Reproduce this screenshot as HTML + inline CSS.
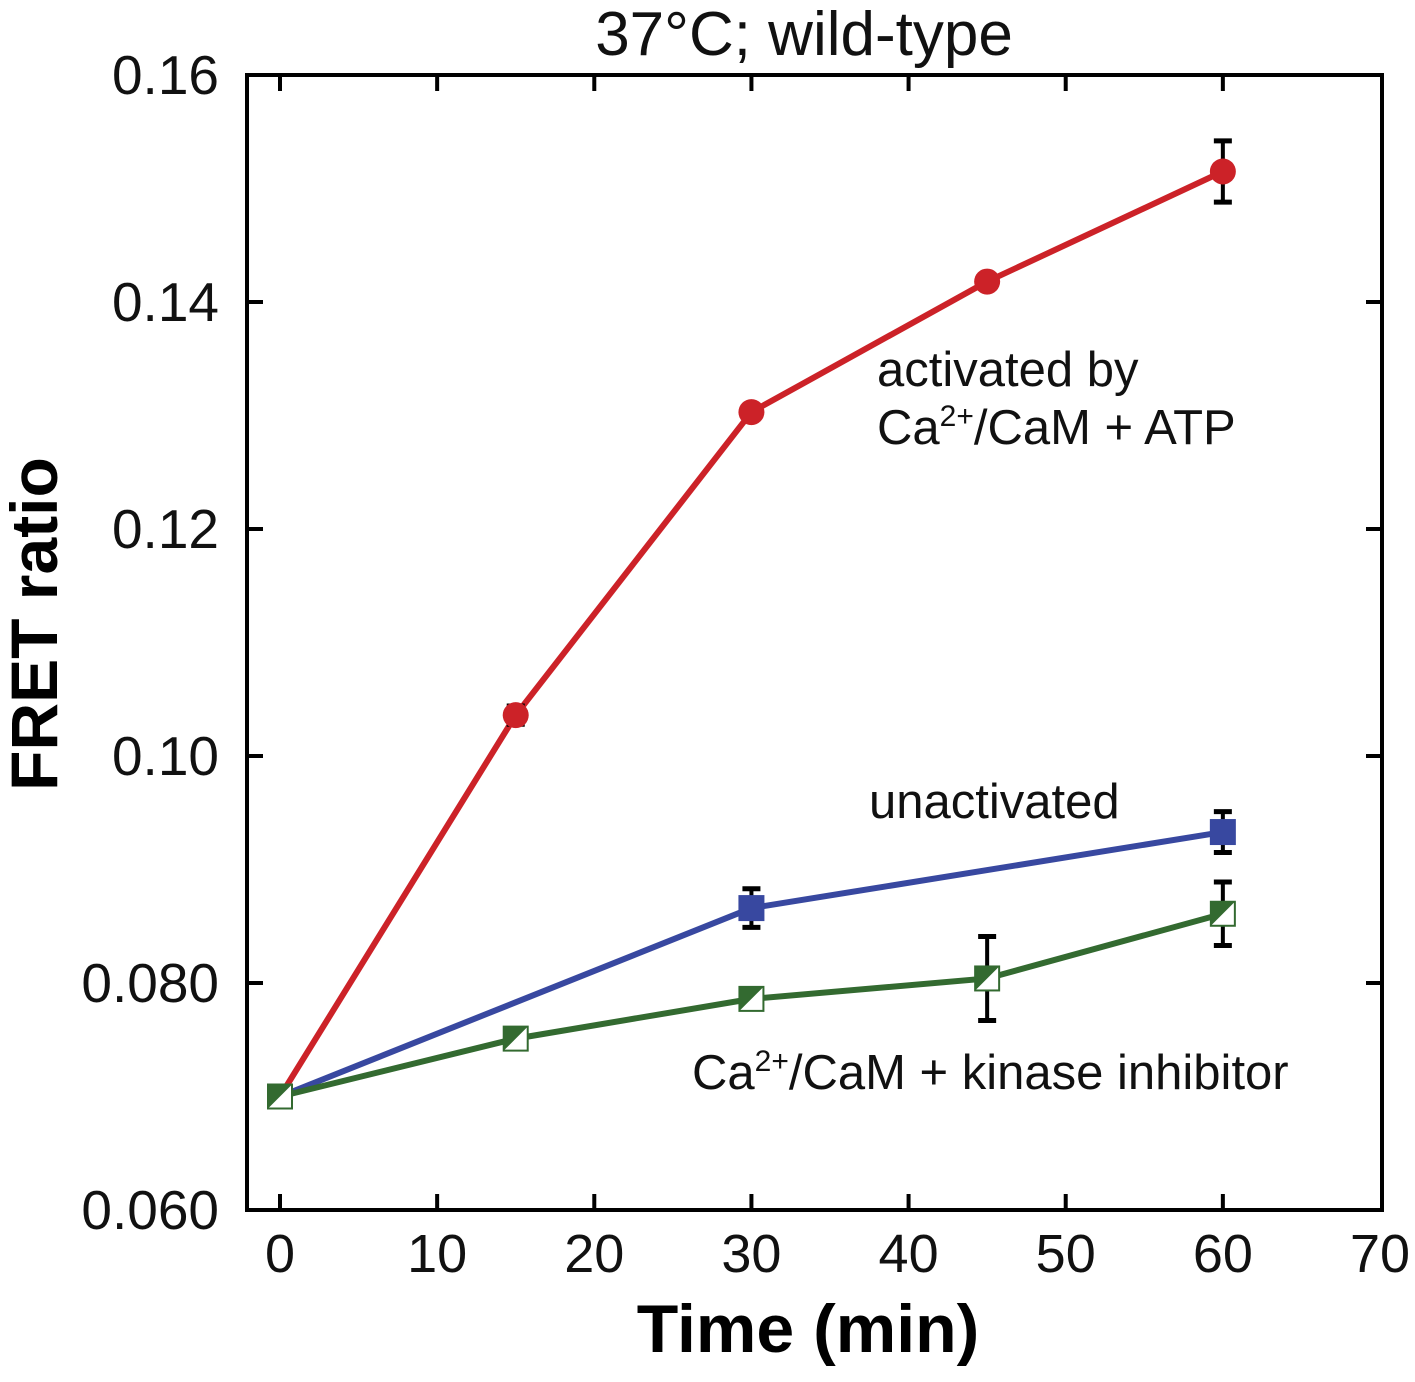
<!DOCTYPE html>
<html><head><meta charset="utf-8"><style>
body{margin:0;background:#fff;width:1415px;height:1377px;overflow:hidden}
svg text{font-family:"Liberation Sans",Arial,sans-serif}
</style></head><body>
<svg width="1415" height="1377" viewBox="0 0 1415 1377">
<g id="g"></g>
</svg>
<script>
const xTicks=[0,10,20,30,40,50,60,70];
const yTicks=[0.06,0.08,0.10,0.12,0.14,0.16];
const yTickLabels=["0.060","0.080","0.10","0.12","0.14","0.16"];
const redX=[0,15,30,45,60];
const redY=[0.0700,0.1036,0.1303,0.1418,0.1515];
const redErr=[0,0.0008,0,0,0.0027];
const blueX=[0,30,60];
const blueY=[0.0700,0.0866,0.0933];
const blueErr=[0,0.0017,0.0018];
const greenX=[0,15,30,45,60];
const greenY=[0.0700,0.0751,0.0786,0.0804,0.0861];
const greenErr=[0,0,0,0.0037,0.0028];
const L=247,R=1382,T=75,B=1210;
const X=v=>280+(v-0)*(1380-280)/70;
const Y=v=>B-(v-0.06)*(B-T)/0.10;
const g=document.getElementById('g');const NS='http://www.w3.org/2000/svg';
function el(t,a,p){const e=document.createElementNS(NS,t);for(const k in a)e.setAttribute(k,a[k]);(p||g).appendChild(e);return e;}
let e;
e=el('rect',{x:L,y:T,width:R-L,height:B-T,fill:'none',stroke:'#000','stroke-width':4});


xTicks.forEach(v=>{const x=X(v);
 if(v<70){el('line',{x1:x,x2:x,y1:B,y2:B-16,stroke:'#000','stroke-width':4});el('line',{x1:x,x2:x,y1:T,y2:T+16,stroke:'#000','stroke-width':4});}
 e=el('text',{x:x,y:1272,'text-anchor':'middle','font-size':54,fill:'#111'});e.textContent=v;
 
 });
yTicks.forEach((v,i)=>{const y=Y(v);
 el('line',{x1:L,x2:L+16,y1:y,y2:y,stroke:'#000','stroke-width':4});el('line',{x1:R,x2:R-16,y1:y,y2:y,stroke:'#000','stroke-width':4});
 e=el('text',{x:219,y:y+19,'text-anchor':'end','font-size':55,fill:'#111'});e.textContent=yTickLabels[i];
 
 });
function series(xs,ys,errs,color,name,marker){
 e=el('polyline',{points:xs.map((x,i)=>X(x)+','+Y(ys[i])).join(' '),fill:'none',stroke:color,'stroke-width':6});
 
 
 xs.forEach((x,i)=>{const cx=X(x),cy=Y(ys[i]);
  if(errs[i]>0){const y1=Y(ys[i]+errs[i]),y2=Y(ys[i]-errs[i]);
   el('line',{x1:cx,x2:cx,y1:y1,y2:y2,stroke:'#000','stroke-width':4});
   el('line',{x1:cx-9,x2:cx+9,y1:y1,y2:y1,stroke:'#000','stroke-width':5});
   el('line',{x1:cx-9,x2:cx+9,y1:y2,y2:y2,stroke:'#000','stroke-width':5});}
  if(marker==='circle'){e=el('circle',{cx:cx,cy:cy,r:13,fill:color});}
  else if(marker==='square'){e=el('rect',{x:cx-13,y:cy-13,width:26,height:26,fill:color});}
  else{e=el('g',{});el('rect',{x:cx-12,y:cy-12,width:24,height:24,fill:'#fff',stroke:color,'stroke-width':2},e);
   el('polygon',{points:`${cx-12},${cy-12} ${cx+12},${cy-12} ${cx-12},${cy+12}`,fill:color},e);}
  
  });
}
series(redX,redY,redErr,'#cc2228','activated','circle');
series(blueX,blueY,blueErr,'#3848a0','unactivated','square');
series(greenX,greenY,greenErr,'#336a30','inhibitor','half');
function txt(x,y,s,size,name,extra){e=el('text',Object.assign({x:x,y:y,'font-size':size,fill:'#111'},extra||{}));e.innerHTML=s;
 
 return e;}
txt(804,55,'37°C; wild-type',62,'chart-title',{'text-anchor':'middle'});
txt(808,1352,'Time (min)',68,'x-axis-title',{'text-anchor':'middle','font-weight':'bold',fill:'#000'});
txt(0,0,'FRET ratio',66,'y-axis-title',{'text-anchor':'middle','font-weight':'bold',fill:'#000',transform:'translate(57,624) rotate(-90)'});
txt(877,386,'activated by',49,'label-activated-1');
txt(877,444,'Ca<tspan font-size="30" dy="-18">2+</tspan><tspan dy="18">/CaM + ATP</tspan>',49,'label-activated-2');
txt(869,818,'unactivated',49,'label-unactivated');
txt(692,1089,'Ca<tspan font-size="30" dy="-18">2+</tspan><tspan dy="18">/CaM + kinase inhibitor</tspan>',49,'label-inhibitor');
</script>
</body></html>
